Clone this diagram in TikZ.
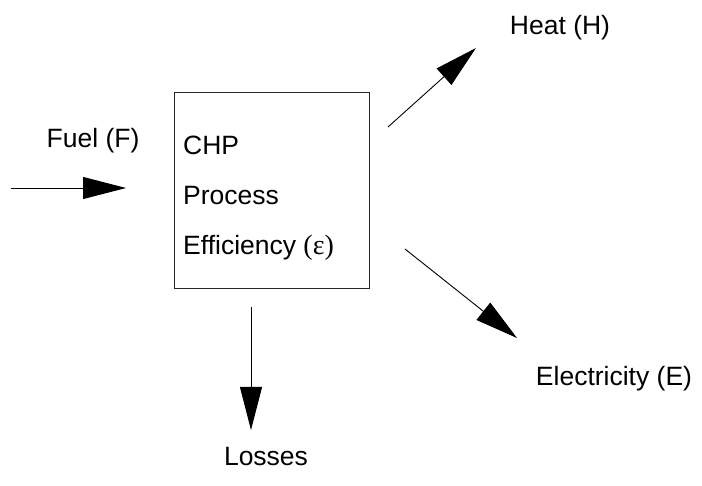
\documentclass[tikz,border=0pt]{standalone}
\usepackage{fontspec}
\setmainfont{Liberation Sans}
\newfontfamily\greekfont{Liberation Serif}
\usetikzlibrary{arrows.meta,positioning}

\begin{document}
\begin{tikzpicture}[
        x=1pt, y=-1pt,
        font=\fontsize{26.5}{31}\selectfont,
        procbox/.style={draw=black!85, line width=0.9pt, rectangle, minimum width=195pt, minimum height=196pt, inner sep=0pt},
        label/.style={inner sep=0pt, anchor=center},
        boxtext/.style={inner sep=0pt, anchor=base west},
        flow/.style={-{Triangle[length=43pt,width=22pt]}, line width=0.9pt}
    ]
        \useasboundingbox (0,0) rectangle (702,486);

        \node[procbox] (chp) at (271.5,190) {};
        \node[boxtext] (name) at (183,155) {CHP};
        \node[boxtext] (proc) at (183,205) {Process};
        \node[boxtext] (eff) at (183,255) {Efficiency {\greekfont\fontsize{28}{31}\selectfont(ε)}};

        \node[label] (fuel) at (93,141) {Fuel (F)};
        \node[label] (heat) at (560,28) {Heat (H)};
        \node[label] (elec) at (614,379) {Electricity (E)};
        \node[label] (loss) at (266,457) {Losses};

        \coordinate (fuelin) at (11,188);
        \coordinate (fuelend) at (126,188);
        \coordinate (heatout) at (388,127);
        \coordinate (heatend) at (476,48);
        \coordinate (elecout) at (405,249);
        \coordinate (elecend) at (517,338);
        \coordinate (lossout) at (251,307);
        \coordinate (lossend) at (251,430);

        \draw[flow] (fuelin) -- (fuelend);
        \draw[flow] (heatout) -- (heatend);
        \draw[flow] (elecout) -- (elecend);
        \draw[flow] (lossout) -- (lossend);
    \end{tikzpicture}
\end{document}
